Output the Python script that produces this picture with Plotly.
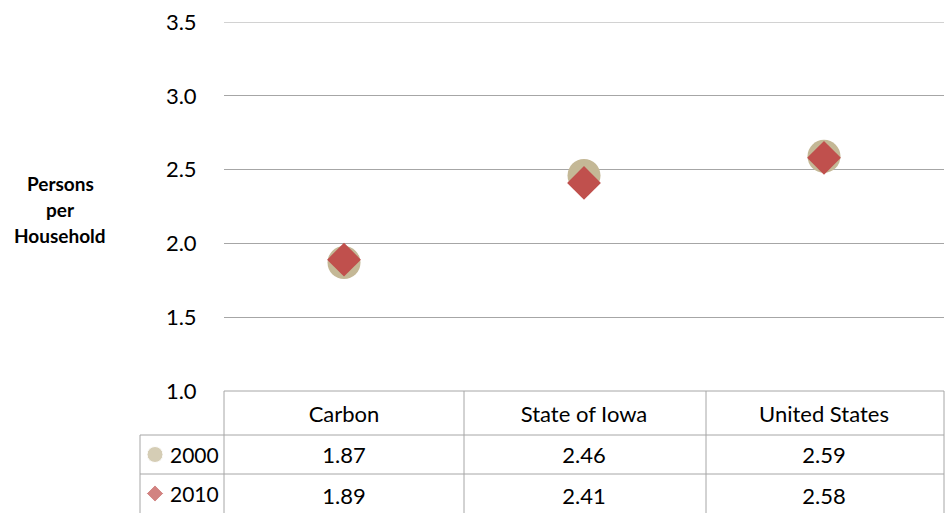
import plotly.graph_objects as go

places = ["Carbon", "State of Iowa", "United States"]
years = ["2000", "2010"]
pph_2000 = [1.87, 2.46, 2.59]
pph_2010 = [1.89, 2.41, 2.58]
y_ticks = [1.0, 1.5, 2.0, 2.5, 3.0, 3.5]

W, H = 945, 514
FONT = "Lato, 'Open Sans', sans-serif"
GRID = "#A6A6A6"
TAN = "#C4B896"
RED = "#C0504D"

# pixel layout of the plot / table
plot_l, plot_r = 224, 944
plot_top, plot_bot = 22, 391
row_lines = [435, 474, 513]
leg_l = 140


def px_x(p):
    return p / W


def px_y(p):
    return 1 - p / H


fig = go.Figure()

fig.add_trace(go.Scatter(
    x=places, y=pph_2000, mode="markers", name=years[0],
    marker=dict(symbol="circle", size=33, color=TAN),
    showlegend=False, xaxis="x", yaxis="y"
))
fig.add_trace(go.Scatter(
    x=places, y=pph_2010, mode="markers", name=years[1],
    marker=dict(symbol="diamond", size=26, color=RED),
    showlegend=False, xaxis="x", yaxis="y"
))

# data table text (category axis shared with the plot)
row_centers = [(plot_bot + row_lines[0]) / 2 - plot_bot,
               (row_lines[0] + row_lines[1]) / 2 - plot_bot,
               (row_lines[1] + row_lines[2]) / 2 - plot_bot]
text_nudge = [3, 3, 5]

fig.add_trace(go.Scatter(
    x=places, y=[row_centers[0] + text_nudge[0]] * 3, mode="text", text=places,
    textfont=dict(family=FONT, size=22, color="#000"),
    showlegend=False, xaxis="x", yaxis="y3", hoverinfo="skip"
))
for vals, yc, nd in [(pph_2000, row_centers[1], text_nudge[1]),
                     (pph_2010, row_centers[2], text_nudge[2])]:
    fig.add_trace(go.Scatter(
        x=places, y=[yc + nd] * 3, mode="text",
        text=["%.2f" % v for v in vals],
        textfont=dict(family=FONT, size=22, color="#000"),
        showlegend=False, xaxis="x", yaxis="y3", hoverinfo="skip"
    ))

# legend keys inside the table
fig.add_trace(go.Scatter(
    x=[15, 15], y=row_centers[1:], mode="markers",
    marker=dict(symbol=["circle", "diamond"], size=[16, 13], color=[TAN, RED]),
    showlegend=False, xaxis="x2", yaxis="y3", hoverinfo="skip"
))

annotations = []
for name, yc in zip(years, row_centers[1:]):
    annotations.append(dict(
        x=28, y=yc, xref="x2", yref="y3", text=name, showarrow=False,
        xanchor="left", yanchor="middle",
        font=dict(family=FONT, size=21, color="#000")
    ))

for i, word in enumerate(["Persons", "per", "Household"]):
    annotations.append(dict(
        x=px_x(60), y=px_y(183 + 26.5 * i), xref="paper", yref="paper",
        text="<b>" + word + "</b>", showarrow=False,
        xanchor="center", yanchor="middle",
        font=dict(family=FONT, size=19, color="#000")
    ))

shapes = []
line = dict(color=GRID, width=1)
# top gridline (plotly drops the one sitting on the range edge)
shapes.append(dict(type="line", xref="paper", yref="y",
                   x0=px_x(plot_l), x1=px_x(plot_r), y0=y_ticks[-1], y1=y_ticks[-1], line=line))
# horizontal table lines
shapes.append(dict(type="line", xref="paper", yref="paper",
                   x0=px_x(plot_l), x1=px_x(plot_r), y0=px_y(plot_bot), y1=px_y(plot_bot), line=line))
for r in row_lines[:2]:
    shapes.append(dict(type="line", xref="paper", yref="paper",
                       x0=px_x(leg_l), x1=px_x(plot_r), y0=px_y(r), y1=px_y(r), line=line))
# vertical table lines
shapes.append(dict(type="line", xref="paper", yref="paper",
                   x0=px_x(leg_l), x1=px_x(leg_l), y0=px_y(row_lines[0]), y1=px_y(row_lines[2]), line=line))
for c in [plot_l, 464, 706, plot_r]:
    shapes.append(dict(type="line", xref="paper", yref="paper",
                       x0=px_x(c), x1=px_x(c), y0=px_y(plot_bot), y1=px_y(row_lines[2]), line=line))

fig.update_layout(
    width=W, height=H,
    margin=dict(l=0, r=0, t=0, b=0, autoexpand=False),
    paper_bgcolor="white", plot_bgcolor="white",
    font=dict(family=FONT, color="#000"),
    xaxis=dict(
        domain=[px_x(plot_l), px_x(plot_r)],
        type="category", range=[-0.5, 2.5],
        showgrid=False, zeroline=False, showticklabels=False, showline=False,
        fixedrange=True, automargin=False
    ),
    yaxis=dict(
        domain=[px_y(plot_bot), px_y(plot_top)],
        range=[1.0, 3.5], tickvals=y_ticks,
        ticktext=["%.1f" % v for v in y_ticks],
        showgrid=True, gridcolor=GRID, gridwidth=1,
        zeroline=False, showline=False,
        ticks="outside", ticklen=22, tickcolor="rgba(0,0,0,0)",
        tickfont=dict(family=FONT, size=22, color="#000"),
        fixedrange=True, automargin=False
    ),
    xaxis2=dict(
        domain=[px_x(leg_l), px_x(plot_l)], range=[0, plot_l - leg_l],
        visible=False, fixedrange=True, automargin=False
    ),
    yaxis3=dict(
        domain=[px_y(row_lines[2]), px_y(plot_bot)],
        range=[row_lines[2] - plot_bot, 0],
        visible=False, fixedrange=True, anchor="x", automargin=False
    ),
    annotations=annotations,
    shapes=shapes,
)

fig.write_html(
    "out.html",
    config={"displayModeBar": False},
    post_script="document.body.style.margin='0';document.body.style.overflow='hidden';"
)
